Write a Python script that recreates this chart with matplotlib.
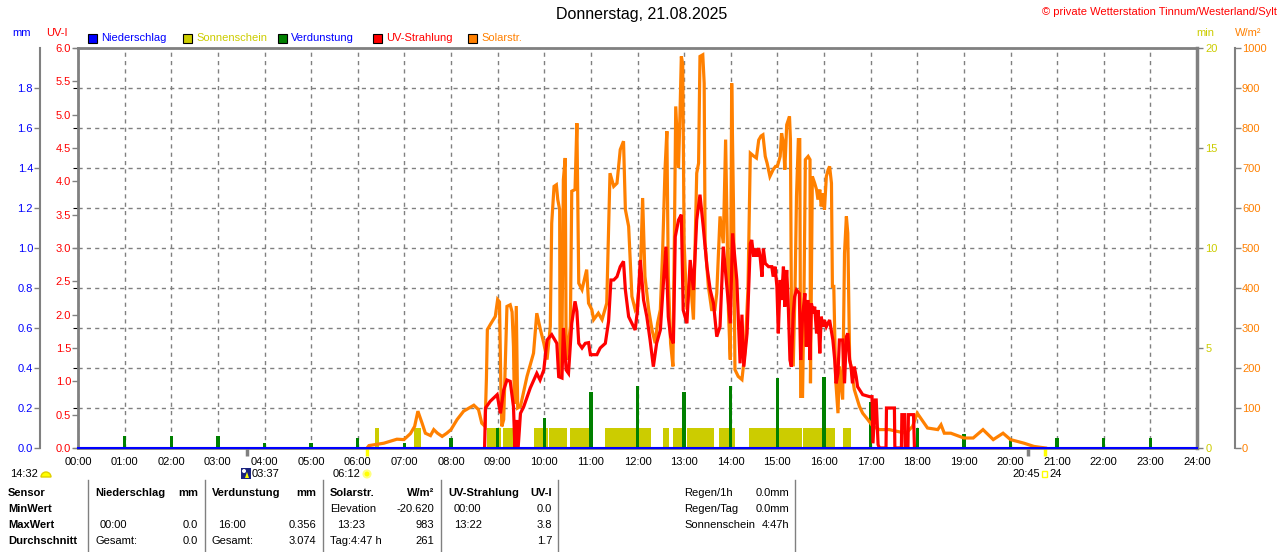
import matplotlib
matplotlib.use("Agg")
import matplotlib.pyplot as plt
from matplotlib.patches import Rectangle, Wedge, Circle, Polygon
from matplotlib.lines import Line2D
from matplotlib.transforms import IdentityTransform
import numpy as np

W_PX, H_PX = 1280, 552

BLUE = "#0000ff"
YELLOW = "#cccc00"
GREEN = "#008000"
RED = "#ff0000"
ORANGE = "#ff8000"
GRAY = "#808080"

plt.rcParams["font.family"] = ["Liberation Sans Narrow", "Liberation Sans", "DejaVu Sans"]
plt.rcParams["font.size"] = 8

# Solarstrahlung (W/m2)
solar_h = [6.20, 6.24, 6.56, 6.84, 6.99, 7.13, 7.22, 7.29, 7.38, 7.45, 7.56, 7.63, 7.71, 7.81, 7.91,
           8.00, 8.13, 8.27, 8.49, 8.59, 8.66, 8.73, 8.76, 8.78, 8.85, 8.95, 9.00, 9.04, 9.07, 9.09,
           9.13, 9.20, 9.27, 9.31, 9.34, 9.36, 9.40, 9.43, 9.49, 9.63, 9.77, 9.84,
           9.91, 9.99, 10.06, 10.13, 10.16, 10.21, 10.26, 10.29, 10.33, 10.34, 10.38, 10.41, 10.45,
           10.47, 10.52, 10.56, 10.59, 10.66, 10.70, 10.74, 10.81, 10.91, 10.95, 11.02, 11.06, 11.16,
           11.24, 11.34, 11.41, 11.49, 11.56, 11.63, 11.70, 11.74, 11.81, 11.88, 11.95, 11.99, 12.06,
           12.11, 12.16, 12.24, 12.31, 12.38, 12.43, 12.49, 12.54, 12.59, 12.63, 12.66, 12.71, 12.76,
           12.79, 12.82, 12.88, 12.91, 12.94, 12.97, 13.00, 13.06, 13.13, 13.20, 13.27, 13.31, 13.34,
           13.40, 13.43, 13.45, 13.52, 13.59, 13.66, 13.70, 13.74, 13.77, 13.84, 13.89, 13.95, 13.99,
           14.02, 14.06, 14.09, 14.16, 14.24, 14.31, 14.37, 14.42, 14.49, 14.55, 14.60, 14.65, 14.69,
           14.74, 14.78, 14.84, 14.91, 14.96, 15.00, 15.06, 15.09, 15.13, 15.16, 15.20, 15.26, 15.28,
           15.30, 15.34, 15.38, 15.41, 15.45, 15.48, 15.50, 15.54, 15.57, 15.60, 15.66, 15.70, 15.71,
           15.75, 15.80, 15.84, 15.87, 15.91, 15.94, 15.98, 16.01, 16.05, 16.09, 16.12, 16.16, 16.18,
           16.21, 16.25, 16.30, 16.33, 16.40, 16.44, 16.48, 16.51, 16.55, 16.58, 16.65, 16.76, 16.83,
           16.94, 17.05, 17.19, 17.40, 17.55, 17.76, 17.90, 18.00, 18.10, 18.22, 18.44, 18.51, 18.58,
           18.72, 19.00, 19.20, 19.41, 19.63, 19.84, 20.00, 20.29, 20.50, 20.75]
solar_w = [0, 6, 12, 22, 21, 36, 54, 92, 62, 37, 31, 46, 37, 29, 37,
           46, 71, 92, 107, 96, 62, 54, 175, 296, 310, 329, 371, 365, 150, 54,
           71, 354, 358, 340, 254, 110, 355, 100, 104, 179, 237, 337,
           300, 262, 221, 304, 562, 654, 658, 621, 596, 179, 262, 671, 725,
           221, 262, 304, 642, 646, 812, 412, 396, 446, 362, 346, 321, 337,
           321, 362, 687, 654, 662, 746, 767, 596, 554, 379, 346, 354, 429,
           625, 429, 346, 296, 262, 312, 346, 496, 696, 792, 429, 262, 204,
           512, 854, 700, 829, 979, 960, 512, 346, 429, 321, 687, 712, 979,
           983, 912, 512, 404, 346, 346, 387, 496, 579, 512, 771, 346, 221,
           912, 596, 196, 179, 171, 246, 400, 737, 730, 725, 770, 780, 783,
           729, 712, 679, 696, 704, 704, 729, 787, 762, 696, 808, 829, 771,
           371, 204, 404, 629, 771, 771, 129, 129, 371, 721, 729, 721, 162,
           679, 662, 646, 621, 646, 604, 637, 596, 679, 696, 704, 662, 404,
           404, 171, 87, 204, 121, 487, 579, 537, 221, 204, 146, 104, 87,
           71, 54, 46, 46, 42, 37, 54, 87, 70, 50, 46, 58, 37,
           37, 25, 25, 46, 21, 37, 21, 12, 4, 0]

# UV-Index
uv_h = [8.72, 8.74, 8.84, 8.99, 9.06, 9.13, 9.20, 9.27, 9.34, 9.37, 9.41, 9.44, 9.49, 9.56, 9.70,
        9.84, 9.91, 9.99, 10.06, 10.16, 10.27, 10.31, 10.38, 10.41, 10.47, 10.52, 10.59, 10.66,
        10.70, 10.74, 10.81, 10.88, 10.95, 10.99, 11.13, 11.20, 11.31, 11.38, 11.43, 11.49, 11.56,
        11.63, 11.70, 11.74, 11.81, 11.88, 11.95, 12.00, 12.06, 12.13, 12.20, 12.27, 12.34, 12.41,
        12.49, 12.56, 12.61, 12.66, 12.71, 12.77, 12.81, 12.88, 12.94, 12.98, 13.06, 13.13, 13.20,
        13.27, 13.34, 13.41, 13.49, 13.56, 13.63, 13.70, 13.77, 13.84, 13.91, 13.99, 14.04, 14.13,
        14.20, 14.24, 14.28, 14.35, 14.42, 14.45, 14.49, 14.53, 14.56, 14.60, 14.63, 14.67, 14.70,
        14.74, 14.81, 14.88, 14.91, 14.95, 14.99, 15.02, 15.06, 15.09, 15.13, 15.16, 15.20, 15.23,
        15.27, 15.30, 15.34, 15.37, 15.41, 15.47, 15.50, 15.54, 15.59, 15.62, 15.66, 15.70, 15.73,
        15.77, 15.80, 15.84, 15.87, 15.91, 15.94, 15.98, 16.01, 16.05, 16.12, 16.19, 16.23, 16.26,
        16.30, 16.33, 16.40, 16.44, 16.48, 16.51, 16.55, 16.58, 16.61, 16.65, 16.69, 16.72, 16.83,
        16.98, 17.03, 17.05, 17.10, 17.12, 17.16, 17.19, 17.33, 17.34, 17.51, 17.52, 17.66, 17.67,
        17.73, 17.74, 17.80, 17.81, 17.92, 17.94]
uv_i = [0.0, 0.6, 0.7, 0.8, 0.52, 0.87, 1.02, 1.0, 0.62, 0.0, 0.42, 0.0, 0.52, 0.62, 0.9,
        1.12, 1.02, 1.17, 1.62, 1.70, 1.57, 1.07, 1.05, 1.80, 1.17, 1.12, 1.87, 2.20,
        2.05, 1.57, 1.50, 1.57, 1.58, 1.40, 1.40, 1.50, 1.57, 1.90, 2.52, 2.52, 2.57,
        2.72, 2.80, 2.37, 1.97, 1.87, 1.77, 2.07, 2.82, 2.22, 1.97, 1.62, 1.22, 1.57,
        1.77, 2.52, 3.02, 1.97, 1.67, 1.57, 3.17, 3.42, 3.50, 2.07, 1.87, 2.82, 2.37,
        3.42, 3.80, 3.32, 2.72, 2.37, 2.17, 1.67, 1.82, 3.02, 2.47, 1.87, 3.22, 2.52,
        1.27, 2.00, 1.22, 1.72, 3.07, 3.12, 2.87, 2.99, 2.87, 3.00, 2.87, 2.57, 2.99,
        2.77, 2.72, 2.72, 2.57, 2.72, 2.42, 1.72, 2.52, 2.22, 2.72, 2.12, 2.67, 2.22,
        1.32, 1.22, 2.02, 2.27, 2.37, 2.32, 1.32, 1.97, 2.32, 1.52, 2.22, 1.32, 2.17,
        2.02, 2.12, 1.72, 2.07, 1.42, 1.97, 1.82, 1.92, 1.82, 1.92, 1.62, 1.32, 0.97,
        1.12, 1.62, 1.62, 0.97, 1.67, 1.72, 1.32, 1.22, 0.97, 1.22, 1.07, 0.92, 0.80,
        0.77, 0.77, 0.07, 0.72, 0.72, 0.05, 0.0, 0.0, 0.6, 0.6, 0.0, 0.0, 0.5,
        0.5, 0.0, 0.0, 0.5, 0.5, 0.0]

# Sonnenschein (min)
sun_start = [6.37, 7.21, 8.77, 9.12, 9.79, 10.11, 10.56, 11.31, 12.54, 12.77, 13.07, 13.74, 14.40, 15.56, 16.41]
sun_end = [6.46, 7.36, 9.07, 9.38, 10.09, 10.49, 10.97, 12.29, 12.68, 13.02, 13.65, 14.09, 15.52, 16.24, 16.58]
sun_min = [1.0] * len(sun_start)

# Verdunstung (mm)
evap_h = list(range(24))
evap_mm = [0.0, 0.06, 0.06, 0.06, 0.025, 0.025, 0.05, 0.027, 0.05, 0.10, 0.15, 0.28,
           0.31, 0.28, 0.31, 0.35, 0.356, 0.23, 0.10, 0.07, 0.05, 0.05, 0.05, 0.05]

# Niederschlag (mm)
rain_h = [0, 24]
rain_mm = [0.0, 0.0]

hour_labels = [f"{h:02d}:00" for h in range(25)]
uv_ticks = np.arange(0, 6.01, 0.5)
mm_ticks = np.arange(0, 1.81, 0.2)
min_ticks = [0, 5, 10, 15, 20]
w_ticks = list(range(0, 1001, 100))

# sun / moon times
moonrise_h = 3 + 37 / 60
sunrise_h = 6 + 12 / 60
sunset_h = 20 + 45 / 60
moonset_h = 20.38


def fx(px):
    return px / W_PX


def fy(py):
    return 1 - py / H_PX


fig = plt.figure(figsize=(12.8, 5.52), dpi=100)

ax = fig.add_axes([fx(78), fy(448), 1119 / W_PX, 400 / H_PX])
ax.set_xlim(0, 24)
ax.set_ylim(0, 10)
ax.set_xticks(range(25))
ax.set_xticklabels(hour_labels)
ax.tick_params(axis="x", length=0, pad=6.5, labelsize=8)
ax.set_yticks(range(11))
ax.tick_params(axis="y", left=False, labelleft=False)
ax.grid(True, color=GRAY, linestyle=(0, (3, 3)), linewidth=1)
ax.set_axisbelow(True)
for s in ax.spines.values():
    s.set_color(GRAY)
    s.set_linewidth(2)
ax.spines["right"].set_linewidth(2.5)


def twin():
    t = ax.twinx()
    for s in t.spines.values():
        s.set_visible(False)
    t.tick_params(axis="y", left=False, right=False, labelleft=False, labelright=False)
    return t


OFFSET = 38 * 72 / 100

# sunshine
ax_min = twin()
ax_min.set_ylim(0, 20)
ax_min.bar(sun_start, sun_min, width=np.array(sun_end) - np.array(sun_start),
           align="edge", color=YELLOW, linewidth=0)
ax_min.set_yticks(min_ticks)
ax_min.yaxis.set_ticks_position("right")
ax_min.tick_params(axis="y", right=True, labelright=True, length=4, width=1,
                   color=GRAY, labelcolor=YELLOW, pad=2)

# evaporation + rain
ax_mm = twin()
ax_mm.set_ylim(0, 2)
ax_mm.bar(evap_h, evap_mm, width=0.07, color=GREEN, linewidth=0)
ax_mm.spines["left"].set_visible(True)
ax_mm.spines["left"].set_position(("outward", OFFSET))
ax_mm.spines["left"].set_color(GRAY)
ax_mm.spines["left"].set_linewidth(1.5)
ax_mm.yaxis.set_ticks_position("left")
ax_mm.yaxis.set_label_position("left")
ax_mm.set_yticks(mm_ticks)
ax_mm.set_yticklabels([f"{v:.1f}" for v in mm_ticks])
ax_mm.tick_params(axis="y", left=True, labelleft=True, length=4, width=1,
                  color=GRAY, labelcolor=BLUE, pad=1)

# solar
ax_w = twin()
ax_w.set_ylim(0, 1000)
ax_w.plot(solar_h, solar_w, color=ORANGE, linewidth=2.3, solid_joinstyle="miter")
ax_w.spines["right"].set_visible(True)
ax_w.spines["right"].set_position(("outward", OFFSET))
ax_w.spines["right"].set_color(GRAY)
ax_w.spines["right"].set_linewidth(1.5)
ax_w.set_yticks(w_ticks)
ax_w.yaxis.set_ticks_position("right")
ax_w.tick_params(axis="y", right=True, labelright=True, length=4, width=1,
                 color=GRAY, labelcolor=ORANGE, pad=1)

# UV
ax_uv = twin()
ax_uv.set_ylim(0, 6)
ax_uv.plot(uv_h, uv_i, color=RED, linewidth=2.3, solid_joinstyle="miter")
ax_uv.plot(rain_h, rain_mm, color=BLUE, linewidth=1.5, clip_on=False)
ax_uv.yaxis.set_ticks_position("left")
ax_uv.yaxis.set_label_position("left")
ax_uv.set_yticks(uv_ticks)
ax_uv.set_yticklabels([f"{v:.1f}" for v in uv_ticks])
ax_uv.tick_params(axis="y", left=True, labelleft=True, length=4, width=1,
                  color=GRAY, labelcolor=RED, pad=1)

# event marks below the axis
xt = ax.get_xaxis_transform()
ax.vlines([moonrise_h, moonset_h], -0.02, 0, transform=xt, color=GRAY, linewidth=2.5, clip_on=False)
ax.vlines([sunrise_h, sunset_h], -0.02, 0, transform=xt, color="#ffff00", linewidth=2.5, clip_on=False)

# axis titles, title
fig.text(fx(642), fy(15), "Donnerstag, 21.08.2025", ha="center", va="center",
         fontsize=11.5, family=["Liberation Sans", "DejaVu Sans"])
fig.text(fx(1277), fy(12), "\u00a9 private Wetterstation Tinnum/Westerland/Sylt", ha="right",
         va="center", color=RED, fontsize=8)
fig.text(fx(22), fy(33), "mm", ha="center", va="center", color=BLUE)
fig.text(fx(57), fy(33), "UV-I", ha="center", va="center", color=RED)
fig.text(fx(1205), fy(33), "min", ha="center", va="center", color=YELLOW)
fig.text(fx(1248), fy(33), "W/m\u00b2", ha="center", va="center", color=ORANGE)


def px_art(a):
    a.set_transform(IdentityTransform())
    fig.add_artist(a)


# legend
legend_items = [("Niederschlag", BLUE, BLUE), ("Sonnenschein", YELLOW, YELLOW),
                ("Verdunstung", GREEN, BLUE), ("UV-Strahlung", RED, RED), ("Solarstr.", ORANGE, ORANGE)]
for i, (name, col, tcol) in enumerate(legend_items):
    x0 = 88 + i * 95
    px_art(Rectangle((x0, H_PX - 43), 9, 9, facecolor=col, edgecolor="black", linewidth=0.8))
    fig.text(fx(x0 + 13), fy(38), name, ha="left", va="center", color=tcol)

# sun / moon row
fig.text(fx(10), fy(474), "14:32", ha="left", va="center")
px_art(Wedge((46, H_PX - 477), 5, 0, 180, facecolor="#ffff00", edgecolor="#e0d000"))
px_art(Rectangle((241, H_PX - 479), 10, 11, facecolor="#1a237e", edgecolor="none"))
px_art(Circle((244, H_PX - 471), 2, facecolor="white", edgecolor="none"))
px_art(Polygon([(245, H_PX - 478), (249, H_PX - 478), (247, H_PX - 472)], facecolor="#ffff00"))
fig.text(fx(252), fy(474), "03:37", ha="left", va="center")
fig.text(fx(333), fy(474), "06:12", ha="left", va="center")
px_art(Circle((367, H_PX - 474), 3.5, facecolor="#ffff00", edgecolor="#ffff80", linewidth=1.5))
fig.text(fx(1012), fy(474), "20:45", ha="left", va="center")
px_art(Rectangle((1042, H_PX - 477), 5, 6, facecolor="none", edgecolor="#ffff00", linewidth=1))
fig.text(fx(1049), fy(474), "24", ha="left", va="center")

# table
for xs in [88, 205, 323, 441, 558, 795]:
    px_art(Line2D([xs, xs], [0, H_PX - 480], color=GRAY, linewidth=1))

rows_y = [493, 509, 525, 541]
bold_cells = [(8, 0, "Sensor", "left"), (8, 1, "MinWert", "left"), (8, 2, "MaxWert", "left"),
              (8, 3, "Durchschnitt", "left"),
              (95, 0, "Niederschlag", "left"), (198, 0, "mm", "right"),
              (212, 0, "Verdunstung", "left"), (316, 0, "mm", "right"),
              (330, 0, "Solarstr.", "left"), (434, 0, "W/m\u00b2", "right"),
              (448, 0, "UV-Strahlung", "left"), (552, 0, "UV-I", "right")]
cells = [(100, 2, "00:00", "left"), (198, 2, "0.0", "right"),
         (95, 3, "Gesamt:", "left"), (198, 3, "0.0", "right"),
         (218, 2, "16:00", "left"), (316, 2, "0.356", "right"),
         (212, 3, "Gesamt:", "left"), (316, 3, "3.074", "right"),
         (330, 1, "Elevation", "left"), (434, 1, "-20.620", "right"),
         (337, 2, "13:23", "left"), (434, 2, "983", "right"),
         (330, 3, "Tag:4:47 h", "left"), (434, 3, "261", "right"),
         (454, 1, "00:00", "left"), (552, 1, "0.0", "right"),
         (454, 2, "13:22", "left"), (552, 2, "3.8", "right"),
         (552, 3, "1.7", "right"),
         (684, 0, "Regen/1h", "left"), (789, 0, "0.0mm", "right"),
         (684, 1, "Regen/Tag", "left"), (789, 1, "0.0mm", "right"),
         (684, 2, "Sonnenschein", "left"), (789, 2, "4:47h", "right")]
for x, r, txt, ha in bold_cells:
    fig.text(fx(x), fy(rows_y[r]), txt, ha=ha, va="center", fontweight="bold")
for x, r, txt, ha in cells:
    fig.text(fx(x), fy(rows_y[r]), txt, ha=ha, va="center")

fig.savefig("out.png", dpi=100)
